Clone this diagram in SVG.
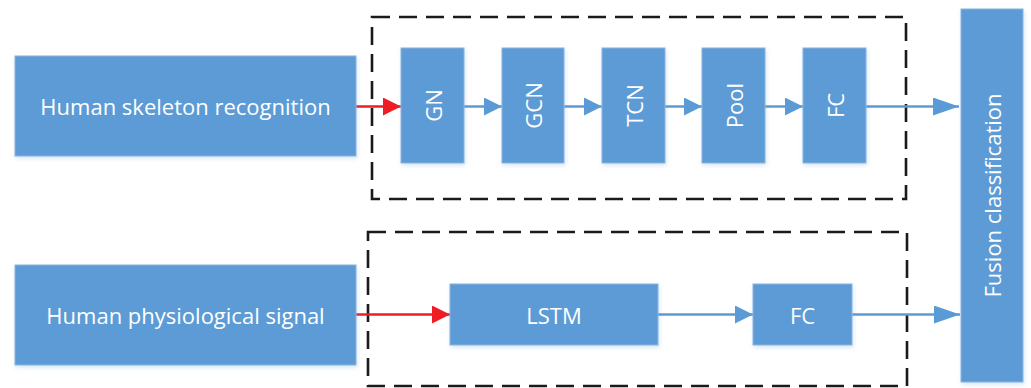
<svg xmlns="http://www.w3.org/2000/svg" width="1031" height="388" viewBox="0 0 1031 388">
<style>
.box{fill:#5B9BD5;stroke:#8CB4DF;stroke-width:1}
.lbl{font-family:"Open Sans","Liberation Sans",sans-serif;font-size:22px;fill:#FFFFFF;text-anchor:middle;dominant-baseline:central}
.dash{fill:none;stroke:#1A1A1A;stroke-width:2.6;stroke-dasharray:18 9}
.blue{stroke:#5B9BD5;stroke-width:2.5;fill:none}
.red{stroke:#EE1C25;stroke-width:2.5;fill:none}
</style>
<defs>
<filter id="sh" x="-10%" y="-10%" width="130%" height="130%">
<feDropShadow dx="1" dy="2" stdDeviation="2" flood-color="#5B9BD5" flood-opacity="0.25"/>
</filter>
<marker id="ab" markerUnits="userSpaceOnUse" markerWidth="18" markerHeight="18" refX="18" refY="9" orient="auto">
<path d="M0,0 L18,9 L0,18 Z" fill="#5B9BD5"/>
</marker>
<marker id="abL" markerUnits="userSpaceOnUse" markerWidth="26" markerHeight="18" refX="26" refY="9" orient="auto">
<path d="M0,0 L26,9 L0,18 Z" fill="#5B9BD5"/>
</marker>
<marker id="ar" markerUnits="userSpaceOnUse" markerWidth="18" markerHeight="18" refX="18" refY="9" orient="auto">
<path d="M0,0 L18,9 L0,18 Z" fill="#EE1C25"/>
</marker>
</defs>
<g id="groups">
<rect class="dash" x="372" y="17" width="534" height="182"/>
<rect class="dash" x="368" y="232" width="539" height="154"/>
</g>
<g id="connectors">
<line class="red" x1="356" y1="106.5" x2="401" y2="106.5" marker-end="url(#ar)"/>
<line class="blue" x1="464" y1="106.5" x2="502" y2="106.5" marker-end="url(#ab)"/>
<line class="blue" x1="564" y1="106.5" x2="602" y2="106.5" marker-end="url(#ab)"/>
<line class="blue" x1="665" y1="106.5" x2="702" y2="106.5" marker-end="url(#ab)"/>
<line class="blue" x1="765" y1="106.5" x2="803" y2="106.5" marker-end="url(#ab)"/>
<line class="blue" x1="866" y1="106.5" x2="959" y2="106.5" marker-end="url(#abL)"/>
<line class="red" x1="356" y1="314.5" x2="450" y2="314.5" marker-end="url(#ar)"/>
<line class="blue" x1="658" y1="314.5" x2="753" y2="314.5" marker-end="url(#ab)"/>
<line class="blue" x1="852" y1="314.5" x2="960" y2="314.5" marker-end="url(#abL)"/>
</g>
<g id="skeleton">
<rect class="box" filter="url(#sh)" x="15" y="56" width="341" height="100"/>
<text class="lbl" x="185.5" y="106">Human skeleton recognition</text>
</g>
<g id="physio">
<rect class="box" filter="url(#sh)" x="15" y="265" width="341" height="100"/>
<text class="lbl" x="185.5" y="315">Human physiological signal</text>
</g>
<g id="gn">
<rect class="box" filter="url(#sh)" x="401" y="48" width="63" height="115"/>
<text class="lbl" transform="translate(432.5,105.5) rotate(-90)">GN</text>
</g>
<g id="gcn">
<rect class="box" filter="url(#sh)" x="502" y="48" width="62" height="115"/>
<text class="lbl" transform="translate(533,105.5) rotate(-90)">GCN</text>
</g>
<g id="tcn">
<rect class="box" filter="url(#sh)" x="602" y="48" width="63" height="115"/>
<text class="lbl" transform="translate(633.5,105.5) rotate(-90)">TCN</text>
</g>
<g id="pool">
<rect class="box" filter="url(#sh)" x="702" y="48" width="63" height="115"/>
<text class="lbl" transform="translate(733.5,105.5) rotate(-90)">Pool</text>
</g>
<g id="fc1">
<rect class="box" filter="url(#sh)" x="803" y="48" width="63" height="115"/>
<text class="lbl" transform="translate(834.5,105.5) rotate(-90)">FC</text>
</g>
<g id="lstm">
<rect class="box" filter="url(#sh)" x="450" y="284" width="208" height="61"/>
<text class="lbl" x="554" y="314.5">LSTM</text>
</g>
<g id="fc2">
<rect class="box" filter="url(#sh)" x="753" y="284" width="99" height="61"/>
<text class="lbl" x="802.5" y="314.5">FC</text>
</g>
<g id="fusion">
<rect class="box" filter="url(#sh)" x="961" y="9" width="62" height="373"/>
<text class="lbl" transform="translate(992,195.5) rotate(-90)">Fusion classification</text>
</g>
</svg>
